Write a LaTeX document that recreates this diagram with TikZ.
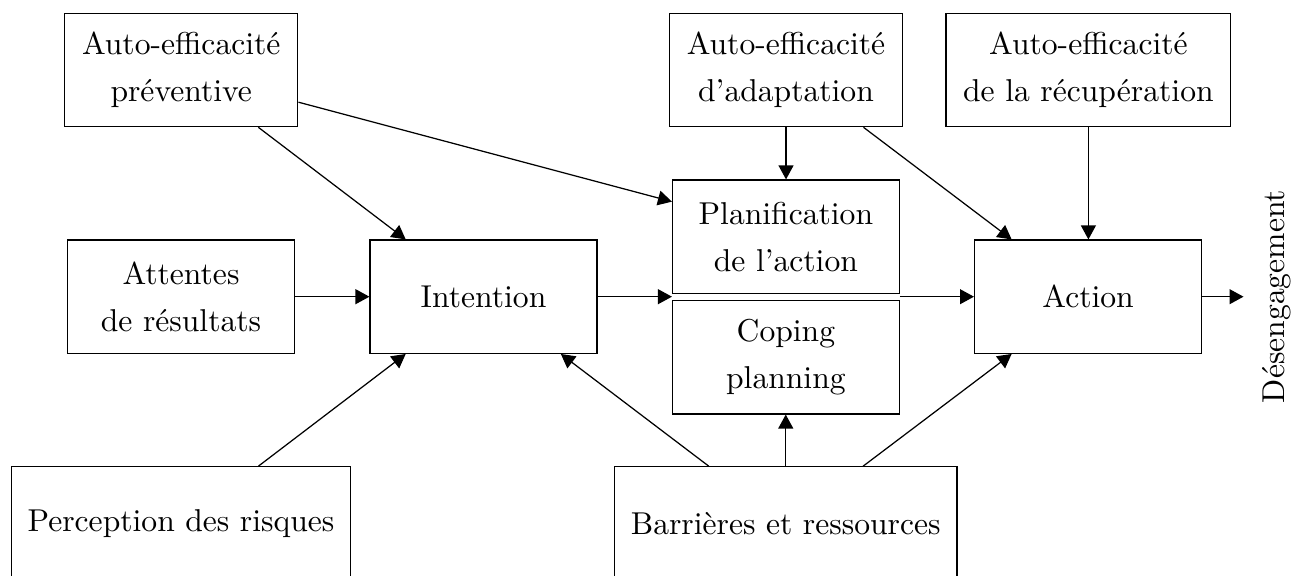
\documentclass[tikz,border=0pt]{standalone}
\usepackage{fontspec}
\usetikzlibrary{arrows.meta,calc}
\begin{document}
\begin{tikzpicture}[x=0.3226pt,y=-0.3226pt,
  box/.style n args={2}{draw, line width=0.4pt, inner sep=0pt,
    minimum width=#1*0.3226pt, minimum height=#2*0.3226pt,
    align=center, font=\fontsize{10.2}{15.16}\selectfont},
  lbl/.style={inner sep=0pt, font=\fontsize{10.2}{15.16}\selectfont},
  arr/.style={-{Triangle[length=4.5pt,width=4.8pt]}, line width=0.4pt}]
\useasboundingbox (0,0) rectangle (1291,576);
% top row
\node[box={233.1}{113}] (aep) at (181.25,70.2) {Auto-efficacité\\préventive};
\node[box={233.6}{113}] (aea) at (786,70.2) {Auto-efficacité\\d’adaptation};
\node[box={284.7}{113}] (aer) at (1088.4,70.2) {Auto-efficacité\\de la récupération};
% middle
\node[box={226.7}{113.3}] (pla) at (785.9,236.7) {Planification\\de l’action};
\node[box={226.7}{113.3}] (cop) at (785.9,357.3) {Coping\\planning};
\node[box={227.2}{113.3}] (att) at (181,296.7) {Attentes\\de résultats};
\node[box={226.9}{113.3}] (int) at (483.5,296.7) {Intention};
\node[box={227}{113.3}] (act) at (1088.1,296.7) {Action};
% bottom
\node[box={339.7}{114}] (per) at (181,523.8) {Perception des risques};
\node[box={342.5}{114}] (bar) at (785.75,523.8) {Barrières et ressources};
% right label
\node[lbl, rotate=90, anchor=base] (des) at (1284,296.5) {Désengagement};
\coordinate (out) at (1243.5,296.7);
% connectors
\draw[arr] ($(aep.south west)!0.829!(aep.south east)$) -- ($(int.north west)!0.159!(int.north east)$);
\draw[arr] ($(aep.north east)!0.78!(aep.south east)$) -- ($(pla.north west)!0.194!(pla.south west)$);
\draw[arr] (att.east) -- (int.west);
\draw[arr] (int.east) -- (int.east -| pla.west);
\draw[arr] (act.west -| pla.east) -- (act.west);
\draw[arr] (act.east) -- (out);
\draw[arr] (aea.south) -- (aea.south |- pla.north);
\draw[arr] ($(aea.south west)!0.83!(aea.south east)$) -- ($(act.north west)!0.165!(act.north east)$);
\draw[arr] (aer.south) -- (aer.south |- act.north);
\draw[arr] ($(per.north west)!0.727!(per.north east)$) -- ($(int.south west)!0.159!(int.south east)$);
\draw[arr] ($(bar.north west)!0.276!(bar.north east)$) -- ($(int.south west)!0.839!(int.south east)$);
\draw[arr] (bar.north) -- (bar.north |- cop.south);
\draw[arr] ($(bar.north west)!0.725!(bar.north east)$) -- ($(act.south west)!0.165!(act.south east)$);
\end{tikzpicture}
\end{document}
